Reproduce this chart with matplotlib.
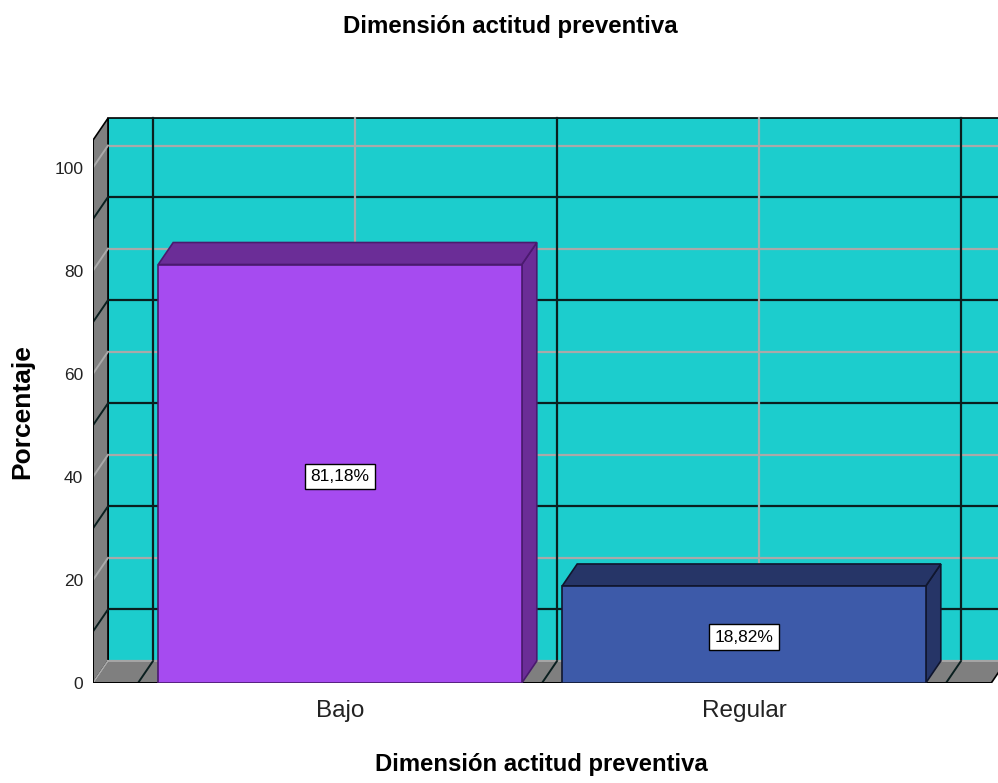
import matplotlib
matplotlib.use("Agg")
import matplotlib.pyplot as plt
from matplotlib.patches import Polygon, Rectangle

# Data
categories = ["Bajo", "Regular"]
percentages = [81.18, 18.82]
bar_labels = ["81,18%", "18,82%"]
y_ticks = [0, 20, 40, 60, 80, 100]
chart_title = "Dimensión actitud preventiva"
x_title = "Dimensión actitud preventiva"
y_title = "Porcentaje"

# Styling
front_colors = ["#A64BF0", "#3D5AA9"]
shade_colors = ["#6B2D97", "#263567"]
edge_colors = ["#4A1A6E", "#10162E"]
WALL_CYAN = "#1CCDCD"
WALL_GRAY = "#7F7F7F"
GRID_LIGHT = "#A9A9A9"
GRID_DARK = "#0A1F1F"

plt.rcParams["font.family"] = ["Liberation Sans", "DejaVu Sans"]

fig = plt.figure(figsize=(9.98, 7.83), dpi=100)
ax = fig.add_axes([93 / 998, 100 / 783, 905 / 998, 110 * 5.155 / 783])

X0, X1 = -0.6114, 1.6287
Y_TOP = 110
ax.set_xlim(X0, X1)
ax.set_ylim(0, Y_TOP)

# depth offset of the 3D box (in data units)
DX = 15 / 404
DY = 22 / 5.155
WALL_TOP = 105.3
XR = 1.612
BAR_W = 0.9

# back wall
ax.add_patch(Rectangle((X0 + DX, DY), (XR + DX) - (X0 + DX), WALL_TOP,
                       facecolor=WALL_CYAN, edgecolor="black", lw=1.2, zorder=1))
for v in range(0, 101, 20):
    ax.plot([X0 + DX, XR + DX], [v + DY, v + DY], color=GRID_LIGHT, lw=1.6, zorder=2)
for v in range(10, 100, 20):
    ax.plot([X0 + DX, XR + DX], [v + DY, v + DY], color=GRID_DARK, lw=1.6, zorder=2)
for c in [0, 1]:
    ax.plot([c + DX, c + DX], [DY, WALL_TOP + DY], color=GRID_LIGHT, lw=1.6, zorder=2)
for c in [-0.5, 0.5, 1.5]:
    ax.plot([c + DX, c + DX], [DY, WALL_TOP + DY], color=GRID_DARK, lw=1.6, zorder=2)

# left wall
ax.add_patch(Polygon([(X0, 0), (X0, WALL_TOP), (X0 + DX, WALL_TOP + DY), (X0 + DX, DY)],
                     closed=True, facecolor=WALL_GRAY, edgecolor="black", lw=1.2, zorder=3))
for v in range(0, 101, 20):
    ax.plot([X0, X0 + DX], [v, v + DY], color=GRID_LIGHT, lw=1.4, zorder=4)
for v in range(10, 100, 20):
    ax.plot([X0, X0 + DX], [v, v + DY], color=GRID_DARK, lw=1.4, zorder=4)

# floor
ax.add_patch(Polygon([(X0, 0), (XR, 0), (XR + DX, DY), (X0 + DX, DY)],
                     closed=True, facecolor=WALL_GRAY, edgecolor="black", lw=1.2, zorder=3))
ax.plot([X0 + DX, XR + DX], [DY, DY], color=GRID_LIGHT, lw=1.4, zorder=4)
for c in [0, 1]:
    ax.plot([c, c + DX], [0, DY], color=GRID_LIGHT, lw=1.4, zorder=4)
for c in [-0.5, 0.5, 1.5]:
    ax.plot([c, c + DX], [0, DY], color=GRID_DARK, lw=1.4, zorder=4)
ax.plot([X0, X0], [0, WALL_TOP], color="black", lw=1.4, zorder=4)
ax.plot([X0, XR], [0, 0], color="black", lw=1.4, zorder=4)

# 3D bars
for i, (h, fc, sc, ec, lab) in enumerate(zip(percentages, front_colors, shade_colors,
                                              edge_colors, bar_labels)):
    xa, xb = i - BAR_W / 2, i + BAR_W / 2
    ax.add_patch(Polygon([(xb, 0), (xb + DX, DY), (xb + DX, h + DY), (xb, h)], closed=True,
                         facecolor=sc, edgecolor=ec, lw=1.2, zorder=5))
    ax.add_patch(Polygon([(xa, h), (xb, h), (xb + DX, h + DY), (xa + DX, h + DY)], closed=True,
                         facecolor=sc, edgecolor=ec, lw=1.2, zorder=5))
    ax.add_patch(Rectangle((xa, 0), BAR_W, h, facecolor=fc, edgecolor=ec, lw=1.2, zorder=6))
    ax.text(i, h / 2 - 0.5, lab, ha="center", va="center", fontsize=12.5, zorder=7,
            bbox=dict(boxstyle="square,pad=0.3", fc="white", ec="black", lw=1))

ax.set_yticks(y_ticks)
ax.set_yticklabels([str(t) for t in y_ticks])
ax.set_xticks(range(len(categories)))
ax.set_xticklabels(categories)
ax.tick_params(axis="y", length=0, pad=7, labelsize=12.5, colors="#222222")
ax.tick_params(axis="x", length=0, pad=12, labelsize=17.5, colors="#222222")
for s in ax.spines.values():
    s.set_visible(False)

fig.text(510 / 998, 1 - 26 / 783, chart_title, ha="center", va="center",
         fontsize=17.3, fontweight="bold")
fig.text(541 / 998, 1 - 765 / 783, x_title, ha="center", va="center",
         fontsize=17.2, fontweight="bold")
fig.text(22 / 998, 1 - 412 / 783, y_title, ha="center", va="center", rotation=90,
         fontsize=19, fontweight="bold")

fig.savefig("out.png", dpi=100, facecolor="white")
